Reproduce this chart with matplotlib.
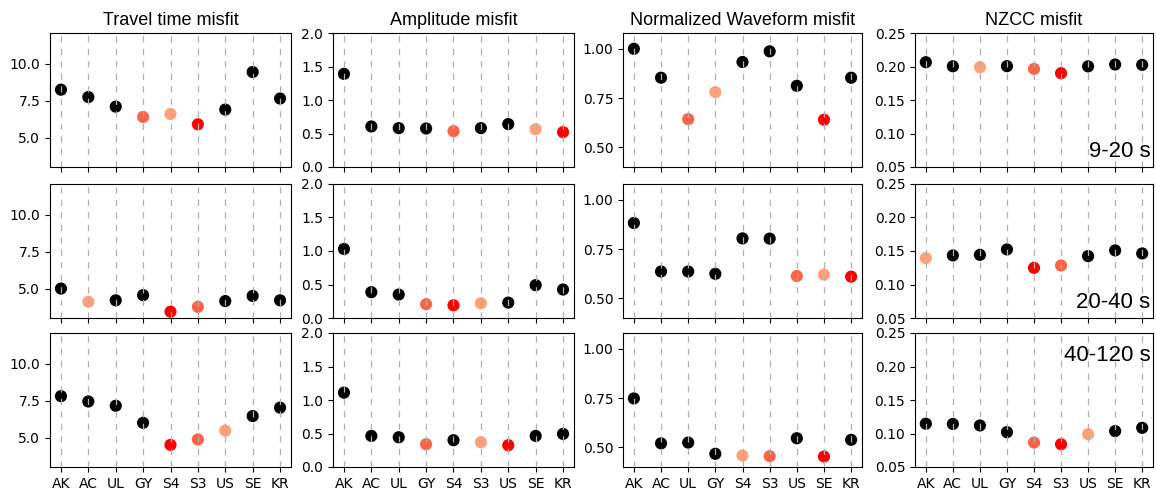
#importing libraries
import numpy as np
import matplotlib.pyplot as plt

#station names on the x axis
stations = ['AK', 'AC', 'UL', 'GY', 'S4', 'S3', 'US', 'SE', 'KR']
periods = ['9-20 s', '20-40 s', '40-120 s']
titles = ['Travel time misfit', 'Amplitude misfit', 'Normalized Waveform misfit', 'NZCC misfit']

#misfit values, one list per period band
tt_920 = [8.25, 7.75, 7.1, 6.4, 6.6, 5.9, 6.9, 9.45, 7.65]
tt_2040 = [5.0, 4.1, 4.2, 4.55, 3.43, 3.76, 4.15, 4.5, 4.2]
tt_40120 = [7.81, 7.45, 7.16, 6.0, 4.5, 4.87, 5.47, 6.46, 7.03]

amp_920 = [1.39, 0.605, 0.58, 0.575, 0.535, 0.58, 0.64, 0.565, 0.52]
amp_2040 = [1.03, 0.385, 0.35, 0.206, 0.19, 0.22, 0.23, 0.49, 0.425]
amp_40120 = [1.11, 0.464, 0.444, 0.34, 0.40, 0.37, 0.325, 0.464, 0.494]

wf_920 = [1.0, 0.853, 0.643, 0.78, 0.933, 0.987, 0.812, 0.640, 0.853]
wf_2040 = [0.882, 0.636, 0.636, 0.624, 0.804, 0.803, 0.613, 0.620, 0.610]
wf_40120 = [0.748, 0.52, 0.524, 0.467, 0.458, 0.455, 0.546, 0.453, 0.538]

nzcc_920 = [0.2064, 0.2003, 0.199, 0.2005, 0.1964, 0.190, 0.2002, 0.203, 0.2025]
nzcc_2040 = [0.1394, 0.1434, 0.1443, 0.1523, 0.1249, 0.1284, 0.1424, 0.1509, 0.1464]
nzcc_40120 = [0.1146, 0.1142, 0.112, 0.102, 0.0865, 0.084, 0.099, 0.1036, 0.1085]

data = [[tt_920, amp_920, wf_920, nzcc_920],
        [tt_2040, amp_2040, wf_2040, nzcc_2040],
        [tt_40120, amp_40120, wf_40120, nzcc_40120]]

ylims = [(3.0, 12.1), (0.0, 2.0), (0.40, 1.08), (0.05, 0.25)]
yticks = [[5.0, 7.5, 10.0], [0.0, 0.5, 1.0, 1.5, 2.0], [0.50, 0.75, 1.00],
          [0.05, 0.10, 0.15, 0.20, 0.25]]
yfmt = ['%.1f', '%.1f', '%.2f', '%.2f']

#best three get red shades
rank_colors = ['red', 'tomato', 'lightsalmon']

fig = plt.figure(figsize=(11.56, 4.93), dpi=100)
W, H = 1156.0, 493.0
lefts = [50, 333, 623, 915]
widths = [241, 241, 239, 238]
tops = [33, 184, 333]
height = 134

x = np.arange(len(stations))
for i in range(3):
    for j in range(4):
        ax = fig.add_axes([lefts[j] / W, 1 - (tops[i] + height) / H, widths[j] / W, height / H])
        vals = np.array(data[i][j])
        order = np.argsort(vals)
        colors = ['black'] * len(vals)
        for k in range(3):
            colors[order[k]] = rank_colors[k]
        ax.scatter(x, vals, c=colors, s=60, zorder=1)
        # grid sits above the dots, like the original
        ax.grid(axis='x', linestyle=(0, (5, 5)), color='#b0b0b0', linewidth=0.9)
        ax.set_axisbelow('line')
        ax.set_xlim(-0.4, 8.4)
        ax.set_ylim(ylims[j])
        ax.set_yticks(yticks[j])
        ax.set_yticklabels([yfmt[j] % t for t in yticks[j]])
        ax.set_xticks(x)
        if i == 2:
            ax.set_xticklabels(stations)
        else:
            ax.set_xticklabels([])
        ax.tick_params(labelsize=10)
        if i == 0:
            ax.set_title(titles[j], fontsize=13, family='Liberation Sans')
        if j == 3:
            if i < 2:
                ax.text(0.99, 0.04, periods[i], transform=ax.transAxes, ha='right', va='bottom',
                        fontsize=16, family='Liberation Sans')
            else:
                ax.text(0.99, 0.91, periods[i], transform=ax.transAxes, ha='right', va='top',
                        fontsize=16, family='Liberation Sans')

plt.savefig('out.png', dpi=100)
